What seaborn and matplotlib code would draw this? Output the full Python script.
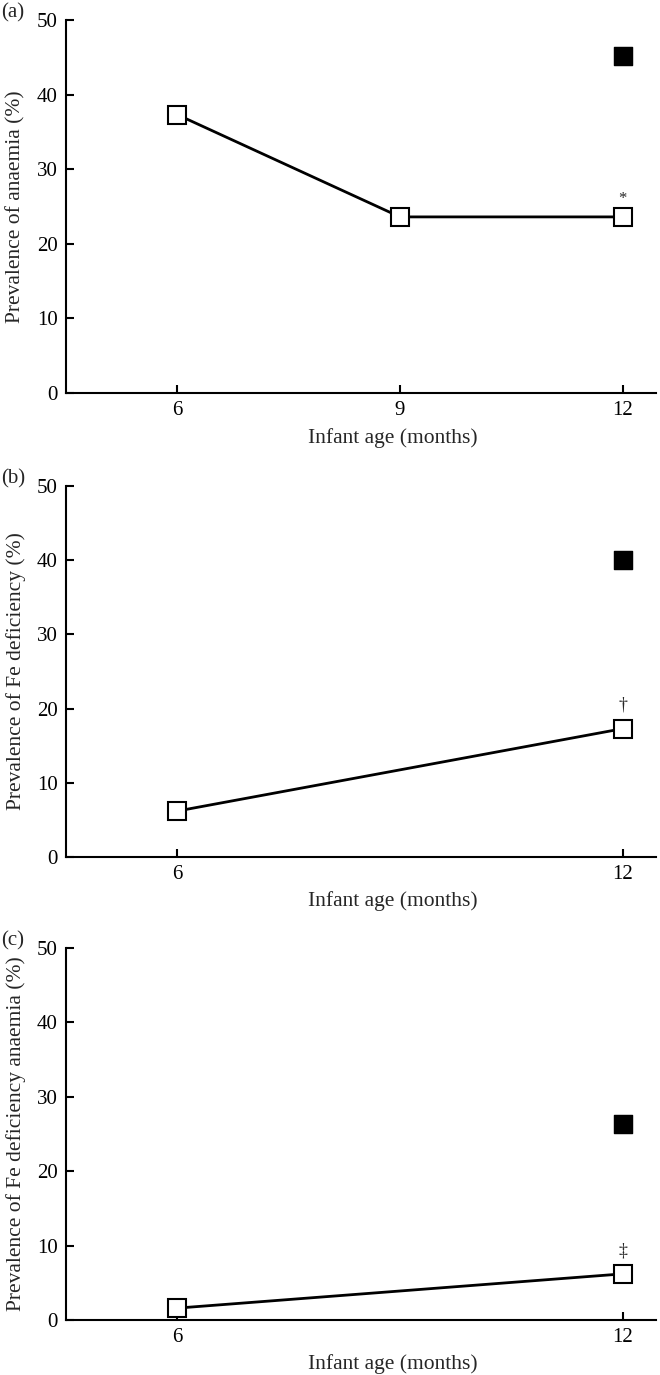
import matplotlib
matplotlib.use("Agg")
import matplotlib.pyplot as plt
import seaborn as sns
import pandas as pd

# Data
ages_a = [6, 9, 12]
open_a = [37.3, 23.6, 23.6]
filled_a_age = [12]
filled_a = [45.2]

ages_b = [6, 12]
open_b = [6.2, 17.3]
filled_b_age = [12]
filled_b = [40.0]

ages_c = [6, 12]
open_c = [1.6, 6.2]
filled_c_age = [12]
filled_c = [26.4]

ylabels = ["Prevalence of anaemia (%)",
           "Prevalence of Fe deficiency (%)",
           "Prevalence of Fe deficiency anaemia (%)"]
panel_tags = ["(a)", "(b)", "(c)"]
sig_marks = ["*", "\u2020", "\u2021"]
sig_offsets = [1.3, 2.0, 2.0]
sig_sizes = [12, 13, 13]
xticks_list = [[6, 9, 12], [6, 12], [6, 12]]
yticks = [0, 10, 20, 30, 40, 50]

sns.set_theme(style="ticks")
plt.rcParams['font.family'] = ['Liberation Serif', 'DejaVu Serif']
plt.rcParams['font.size'] = 14

fig = plt.figure(figsize=(6.6, 13.75), dpi=100)

rects = [
    (0.1, 0.7142, 0.894, 0.9855 - 0.7142),
    (0.1, 0.3767, 0.894, 0.6465 - 0.3767),
    (0.1, 0.0400, 0.894, 0.3105 - 0.0400),
]
datasets = [
    (ages_a, open_a, filled_a_age, filled_a),
    (ages_b, open_b, filled_b_age, filled_b),
    (ages_c, open_c, filled_c_age, filled_c),
]

for i, (rect, (ax_age, ov, fx, fv)) in enumerate(zip(rects, datasets)):
    ax = fig.add_axes(rect)
    df_open = pd.DataFrame({"age": ax_age, "val": ov})
    df_fill = pd.DataFrame({"age": fx, "val": fv})
    sns.lineplot(data=df_open, x="age", y="val", ax=ax, color="black",
                 linewidth=2, marker="s", markersize=12.5,
                 markerfacecolor="white", markeredgecolor="black",
                 markeredgewidth=1.5, zorder=3)
    sns.scatterplot(data=df_fill, x="age", y="val", ax=ax, marker="s",
                    s=165, color="black", edgecolor="black", zorder=4)
    ax.text(ax_age[-1], ov[-1] + sig_offsets[i], sig_marks[i], ha="center",
            va="bottom", fontsize=sig_sizes[i])
    ax.set_xlim(4.5, 12.45)
    ax.set_ylim(0, 50)
    ax.set_xticks(xticks_list[i])
    ax.set_yticks(yticks)
    ax.tick_params(direction="in", length=6, width=1.5, labelsize=15,
                   colors="black", pad=6)
    for s in ["top", "right"]:
        ax.spines[s].set_visible(False)
    for s in ["left", "bottom"]:
        ax.spines[s].set_linewidth(1.5)
        ax.spines[s].set_color("black")
    ax.set_xlabel("Infant age (months)", fontsize=15.5)
    ax.xaxis.set_label_coords(0.554, -0.093)
    ax.set_ylabel(ylabels[i], fontsize=15.5, labelpad=8)
    ax.text(-0.11, 1.02, panel_tags[i], transform=ax.transAxes,
            ha="left", va="center", fontsize=15)

fig.savefig("out.png", dpi=100)
